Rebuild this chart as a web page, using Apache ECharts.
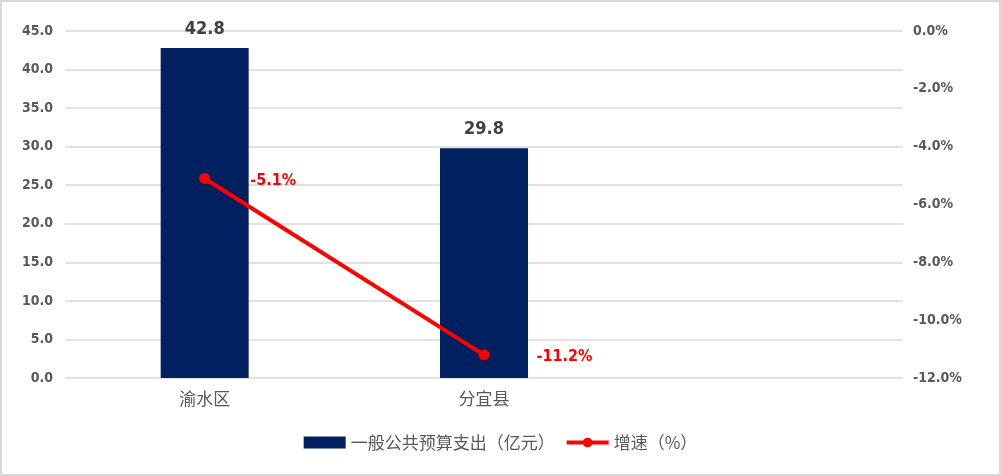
<!DOCTYPE html>
<html><head><meta charset="utf-8">
<script src="https://cdn.jsdelivr.net/npm/echarts@6/dist/echarts.min.js"></script>
<style>html,body{margin:0;padding:0;background:#fff}#c{width:1001px;height:476px}</style>
</head><body><div id="c"></div>
<script>
const categories = ['渝水区', '分宜县', ''];
const spending = [42.8, 29.8, null];
const growth = [-5.1, -11.2, null];
const seriesNames = ['一般公共预算支出（亿元）', '增速（%）'];

const numFont = 'DejaVu Sans Condensed';
const labelShift = [0, 7, 0];
const growthData = growth.map((v, i) => ({value: v, label: {offset: [labelShift[i], 2]}}));

const chart = echarts.init(document.getElementById('c'));
chart.setOption({
  animation: false,
  backgroundColor: '#fff',
  graphic: [{
    type: 'rect', shape: {x: 1, y: 1, width: 999, height: 474},
    style: {fill: 'none', stroke: '#d9d9d9', lineWidth: 2}, silent: true, z: 100
  }],
  grid: {left: 65, right: 98, top: 31, bottom: 98},
  legend: {
    bottom: 20, left: 'center',
    itemWidth: 42, itemHeight: 12, itemGap: 10,
    textStyle: {fontFamily: 'Noto Sans CJK SC', fontSize: 17, color: '#595959'},
    data: [
      {name: seriesNames[0], icon: 'rect'},
      {name: seriesNames[1], lineStyle: {width: 4}}
    ]
  },
  xAxis: {
    type: 'category', data: categories,
    axisLine: {show: false}, axisTick: {show: false},
    axisLabel: {fontFamily: 'Noto Sans CJK SC', fontSize: 17, color: '#595959', margin: 12}
  },
  yAxis: [{
    type: 'value', min: 0, max: 45, interval: 5,
    axisLine: {show: false}, axisTick: {show: false},
    splitLine: {lineStyle: {color: '#d9d9d9', width: 1.5}},
    axisLabel: {formatter: v => v.toFixed(1), fontFamily: numFont, fontWeight: 'bold', fontSize: 14, color: '#595959', margin: 12}
  }, {
    type: 'value', min: -12, max: 0, interval: 2,
    axisLine: {show: false}, axisTick: {show: false}, splitLine: {show: false},
    axisLabel: {formatter: v => v.toFixed(1) + '%', fontFamily: numFont, fontWeight: 'bold', fontSize: 14, color: '#595959', margin: 10}
  }],
  series: [{
    name: seriesNames[0], type: 'bar', data: spending, barWidth: 88,
    itemStyle: {color: '#002060'},
    label: {show: true, position: 'top', distance: 10, formatter: p => p.value.toFixed(1),
      fontFamily: numFont, fontWeight: 'bold', fontSize: 18, color: '#404040'}
  }, {
    name: seriesNames[1], type: 'line', yAxisIndex: 1, data: growthData,
    symbol: 'circle', symbolSize: 11,
    lineStyle: {color: '#ff0000', width: 4}, itemStyle: {color: '#ff0000'},
    label: {show: true, position: 'right', distance: 40, formatter: p => p.value.toFixed(1) + '%',
      fontFamily: numFont, fontWeight: 'bold', fontSize: 16, color: '#ff0000'}
  }]
});
</script></body></html>
